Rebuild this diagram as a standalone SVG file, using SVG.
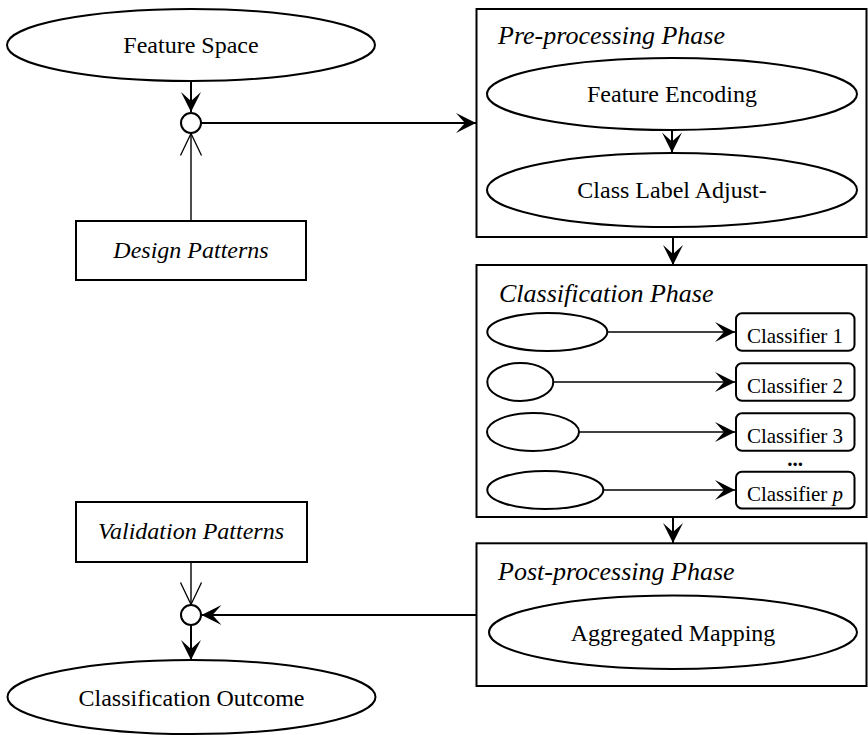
<svg xmlns="http://www.w3.org/2000/svg" width="868" height="735" viewBox="0 0 868 735">
<style>
text{font-family:"Liberation Serif","Times New Roman",serif;fill:#000}
.t{font-size:24px;text-anchor:middle}
.ti{font-size:26px;font-style:italic}
.ci{font-size:21px;text-anchor:middle}
.sh{fill:#fff;stroke:#000;stroke-width:2}
.ln{fill:none;stroke:#000;stroke-width:2}
.thin{fill:none;stroke:#000;stroke-width:1.4}
</style>
<defs>
<marker id="ah" viewBox="-21 -11 22 22" markerWidth="22" markerHeight="22" refX="0" refY="0" orient="auto" markerUnits="userSpaceOnUse">
<path d="M0,0 L-20,-10 L-11,0 L-20,10 Z" fill="#000"/>
</marker>
<marker id="oh" viewBox="-23 -12 24 24" markerWidth="24" markerHeight="24" refX="0" refY="0" orient="auto" markerUnits="userSpaceOnUse">
<path d="M-22,-10.5 L0,0 L-22,10.5" fill="none" stroke="#000" stroke-width="1.3"/>
</marker>
</defs>

<g id="connectors">
<line class="ln" x1="191" y1="81" x2="191" y2="112" marker-end="url(#ah)"/>
<line class="ln" x1="201" y1="123" x2="476" y2="123" marker-end="url(#ah)"/>
<line class="thin" x1="191" y1="221" x2="191" y2="133.5" marker-end="url(#oh)"/>
<line class="ln" x1="673" y1="237" x2="673" y2="265" marker-end="url(#ah)"/>
<line class="ln" x1="673" y1="517" x2="673" y2="543" marker-end="url(#ah)"/>
<line class="ln" x1="476" y1="615" x2="201.5" y2="615" marker-end="url(#ah)"/>
<line class="thin" x1="191" y1="562" x2="191" y2="604.5" marker-end="url(#oh)"/>
<line class="ln" x1="191" y1="625" x2="191" y2="660" marker-end="url(#ah)"/>
</g>

<g id="feature-space">
<ellipse class="sh" cx="191" cy="45" rx="184" ry="36"/>
<text class="t" x="191" y="53">Feature Space</text>
</g>

<g id="junction-design">
<circle class="sh" cx="191" cy="123" r="10"/>
</g>

<g id="design-patterns">
<rect class="sh" x="76" y="221" width="230" height="59"/>
<text class="t" x="191" y="258" font-style="italic">Design Patterns</text>
</g>

<g id="pre-processing">
<rect class="sh" x="476.5" y="9" width="390" height="228"/>
<text class="ti" x="498" y="44">Pre-processing Phase</text>
<g id="feature-encoding">
<ellipse class="sh" cx="672" cy="94" rx="185" ry="36"/>
<text class="t" x="672" y="102">Feature Encoding</text>
</g>
<line class="ln" x1="672" y1="130" x2="672" y2="152.5" marker-end="url(#ah)"/>
<g id="class-label-adjust">
<ellipse class="sh" cx="672" cy="190" rx="185" ry="37"/>
<text class="t" x="672" y="198">Class Label Adjust-</text>
</g>
</g>

<g id="classification">
<rect class="sh" x="476.5" y="265" width="390" height="252"/>
<text class="ti" x="499" y="301.5">Classification Phase</text>
<g id="row1">
<ellipse class="sh" cx="547.3" cy="332" rx="60" ry="19"/>
<line class="thin" x1="607.3" y1="332" x2="735" y2="332" marker-end="url(#ah)"/>
<rect class="sh" x="736" y="313.3" width="118.5" height="37.5" rx="6"/>
<text class="ci" x="795" y="343">Classifier 1</text>
</g>
<g id="row2">
<ellipse class="sh" cx="520.3" cy="382" rx="33" ry="19"/>
<line class="thin" x1="553.3" y1="382" x2="735" y2="382" marker-end="url(#ah)"/>
<rect class="sh" x="736" y="363.3" width="118.5" height="37.5" rx="6"/>
<text class="ci" x="795" y="393">Classifier 2</text>
</g>
<g id="row3">
<ellipse class="sh" cx="533" cy="432" rx="46" ry="19"/>
<line class="thin" x1="579" y1="432" x2="735" y2="432" marker-end="url(#ah)"/>
<rect class="sh" x="736" y="413.3" width="118.5" height="37.5" rx="6"/>
<text class="ci" x="795" y="443">Classifier 3</text>
</g>
<text class="ci" x="795" y="466" font-weight="bold">...</text>
<g id="row4">
<ellipse class="sh" cx="545.3" cy="490" rx="58" ry="19"/>
<line class="thin" x1="603.3" y1="490" x2="735" y2="490" marker-end="url(#ah)"/>
<rect class="sh" x="736" y="471.7" width="118.5" height="36.8" rx="6"/>
<text class="ci" x="795" y="501">Classifier <tspan font-style="italic">p</tspan></text>
</g>
</g>

<g id="post-processing">
<rect class="sh" x="476.5" y="543.3" width="390" height="142.7"/>
<text class="ti" x="498" y="580">Post-processing Phase</text>
<g id="aggregated-mapping">
<ellipse class="sh" cx="673" cy="632.3" rx="184" ry="36.7"/>
<text class="t" x="673" y="640.5">Aggregated Mapping</text>
</g>
</g>

<g id="validation-patterns">
<rect class="sh" x="76" y="502" width="231" height="60"/>
<text class="t" x="191" y="538.5" font-style="italic">Validation Patterns</text>
</g>

<g id="junction-validation">
<circle class="sh" cx="191" cy="615" r="10"/>
</g>

<g id="classification-outcome">
<ellipse class="sh" cx="191.5" cy="697" rx="184" ry="37"/>
<text class="t" x="191.5" y="705.5">Classification Outcome</text>
</g>
</svg>
